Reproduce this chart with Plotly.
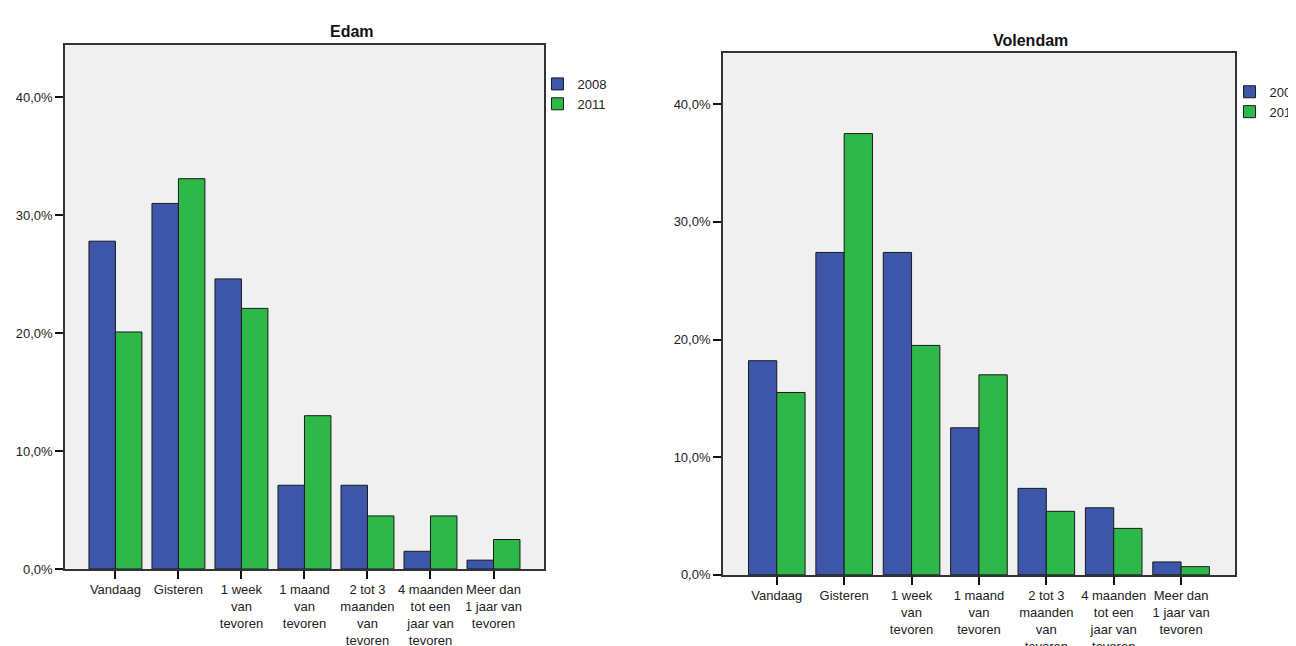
import plotly.graph_objects as go

categories = ["Vandaag", "Gisteren", "1 week<br>van<br>tevoren", "1 maand<br>van<br>tevoren",
              "2 tot 3<br>maanden<br>van<br>tevoren", "4 maanden<br>tot een<br>jaar van<br>tevoren",
              "Meer dan<br>1 jaar van<br>tevoren"]
edam_2008 = [27.8, 31.0, 24.6, 7.1, 7.1, 1.5, 0.75]
edam_2011 = [20.1, 33.1, 22.1, 13.0, 4.5, 4.5, 2.5]
volendam_2008 = [18.2, 27.4, 27.4, 12.5, 7.35, 5.7, 1.1]
volendam_2011 = [15.5, 37.5, 19.5, 17.0, 5.4, 3.95, 0.7]
tick_vals = [0, 10, 20, 30, 40]
tick_text = ["0,0%", "10,0%", "20,0%", "30,0%", "40,0%"]

BLUE = "#3E56AA"
GREEN = "#2EB84A"
FONT = "Liberation Sans, Arial, sans-serif"
W, H = 1296, 646

x_idx = list(range(len(categories)))

fig = go.Figure()
line = dict(color="#1a1a1a", width=1)
fig.add_trace(go.Bar(x=x_idx, y=edam_2008, name="2008", marker=dict(color=BLUE, line=line),
                     xaxis="x", yaxis="y", legend="legend"))
fig.add_trace(go.Bar(x=x_idx, y=edam_2011, name="2011", marker=dict(color=GREEN, line=line),
                     xaxis="x", yaxis="y", legend="legend"))
fig.add_trace(go.Bar(x=x_idx, y=volendam_2008, name="2008", marker=dict(color=BLUE, line=line),
                     xaxis="x2", yaxis="y2", legend="legend2"))
fig.add_trace(go.Bar(x=x_idx, y=volendam_2011, name="2011", marker=dict(color=GREEN, line=line),
                     xaxis="x2", yaxis="y2", legend="legend2"))

def px_x(v):
    return v / W

def px_y(v):
    return 1 - v / H

axis_common = dict(showgrid=False, zeroline=False, showline=True, linecolor="#333333", linewidth=1.5,
                   mirror=True, ticks="outside", tickcolor="#111111", tickwidth=1.5, ticklen=8,
                   tickangle=0, tickfont=dict(family=FONT, size=13, color="#222222"))

fig.update_layout(
    width=W, height=H,
    margin=dict(l=0, r=0, t=0, b=0),
    paper_bgcolor="white",
    plot_bgcolor="#F0F0F0",
    barmode="group",
    bargap=0.16,
    bargroupgap=0,
    font=dict(family=FONT, size=13, color="#222222"),
    xaxis=dict(domain=[px_x(57.5), px_x(540.5)], range=[-0.8, 6.8], tickvals=x_idx, ticktext=categories,
               anchor="y", **axis_common),
    yaxis=dict(domain=[px_y(570.7), px_y(37.5)], range=[0, 44.45], tickvals=tick_vals, ticktext=tick_text,
               anchor="x", **axis_common),
    xaxis2=dict(domain=[px_x(721), px_x(1237.5)], range=[-0.8, 6.8], tickvals=x_idx, ticktext=categories,
                anchor="y2", **axis_common),
    yaxis2=dict(domain=[px_y(576.7), px_y(46)], range=[0, 44.33], tickvals=tick_vals, ticktext=tick_text,
                anchor="x2", **axis_common),
    legend=dict(x=px_x(534), y=px_y(62), xanchor="left", yanchor="top", bgcolor="rgba(0,0,0,0)",
                font=dict(family=FONT, size=13, color="#222222"), itemwidth=30, tracegroupgap=0),
    legend2=dict(x=px_x(1232), y=px_y(70), xanchor="left", yanchor="top", bgcolor="rgba(0,0,0,0)",
                 font=dict(family=FONT, size=13, color="#222222"), itemwidth=30, tracegroupgap=0),
    annotations=[
        dict(text="<b>Edam</b>", x=px_x(347), y=px_y(24), xref="paper", yref="paper", showarrow=False,
             xanchor="center", yanchor="middle", font=dict(family=FONT, size=16, color="#111111")),
        dict(text="<b>Volendam</b>", x=px_x(1031), y=px_y(33), xref="paper", yref="paper", showarrow=False,
             xanchor="center", yanchor="middle", font=dict(family=FONT, size=16, color="#111111")),
    ],
)

fig.write_html("out.html")
